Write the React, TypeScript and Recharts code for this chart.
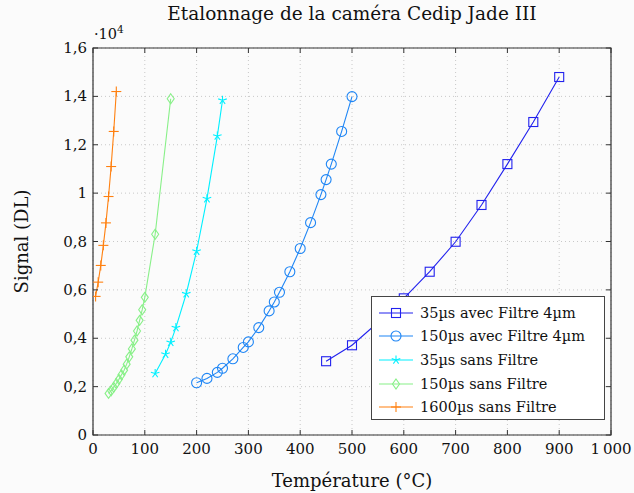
import React from 'react';
import { LineChart, Line, XAxis, YAxis, CartesianGrid, ReferenceArea } from 'recharts';

// temperatures (°C) and signals (DL)
const temp35Filtre = [450, 500, 550, 600, 650, 700, 750, 800, 850, 900];
const sig35Filtre = [3050, 3710, 4650, 5650, 6750, 7990, 9510, 11200, 12940, 14800];

const temp150Filtre = [200, 220, 240, 250, 270, 290, 300, 320, 340, 350, 360, 380, 400, 420, 440, 450, 460, 480, 500];
const sig150Filtre = [2160, 2340, 2590, 2760, 3150, 3620, 3850, 4440, 5130, 5500, 5900, 6750, 7710, 8780, 9940, 10560, 11200, 12550, 13990];

const temp35Sans = [120, 140, 150, 160, 180, 200, 220, 240, 250];
const sig35Sans = [2540, 3340, 3830, 4440, 5840, 7600, 9770, 12360, 13840];

const temp150Sans = [30, 35, 40, 45, 50, 55, 60, 65, 70, 75, 80, 85, 90, 95, 100, 120, 150];
const sig150Sans = [1720, 1830, 1970, 2130, 2300, 2490, 2680, 2930, 3230, 3560, 3920, 4300, 4740, 5180, 5690, 8300, 13900];

const temp1600Sans = [5, 10, 15, 20, 25, 30, 35, 40, 45];
const sig1600Sans = [5730, 6320, 7010, 7840, 8770, 9860, 11100, 12550, 14200];

const xTicks = [0, 100, 200, 300, 400, 500, 600, 700, 800, 900, 1000];
const yTicks = [0, 2000, 4000, 6000, 8000, 10000, 12000, 14000, 16000];

const W = 634;
const H = 493;
const PL = 93;
const PR = 611;
const PT = 48;
const PB = 435;
const FONT = '"DejaVu Serif", serif';

const toPts = (xs: number[], ys: number[]) => xs.map((x, i) => ({ x, y: ys[i] }));

type Shape = 'square' | 'circle' | 'star' | 'diamond' | 'plus';

const Marker = ({ shape, cx, cy, color }: { shape: Shape; cx: number; cy: number; color: string }) => {
    const sw = 1.1;
    if (shape === 'square')
        return <rect x={cx - 4.5} y={cy - 4.5} width={9} height={9} fill="none" stroke={color} strokeWidth={sw} />;
    if (shape === 'circle')
        return <circle cx={cx} cy={cy} r={5} fill="none" stroke={color} strokeWidth={sw} />;
    if (shape === 'diamond')
        return <polygon points={`${cx},${cy - 5} ${cx + 3.5},${cy} ${cx},${cy + 5} ${cx - 3.5},${cy}`} fill="none" stroke={color} strokeWidth={sw} />;
    if (shape === 'plus')
        return (
            <g stroke={color} strokeWidth={sw}>
                <line x1={cx - 5} y1={cy} x2={cx + 5} y2={cy} />
                <line x1={cx} y1={cy - 5} x2={cx} y2={cy + 5} />
            </g>
        );
    // star: 5 rays
    const rays = [0, 1, 2, 3, 4].map(k => {
        const a = -Math.PI / 2 + (k * 2 * Math.PI) / 5;
        return <line key={k} x1={cx} y1={cy} x2={cx + 4.5 * Math.cos(a)} y2={cy + 4.5 * Math.sin(a)} />;
    });
    return <g stroke={color} strokeWidth={sw}>{rays}</g>;
};

const series: { name: string; color: string; shape: Shape; data: { x: number; y: number }[] }[] = [
    { name: '35µs avec Filtre 4µm', color: '#2222ee', shape: 'square', data: toPts(temp35Filtre, sig35Filtre) },
    { name: '150µs avec Filtre 4µm', color: '#1f86f5', shape: 'circle', data: toPts(temp150Filtre, sig150Filtre) },
    { name: '35µs sans Filtre', color: '#00f0ff', shape: 'star', data: toPts(temp35Sans, sig35Sans) },
    { name: '150µs sans Filtre', color: '#88f088', shape: 'diamond', data: toPts(temp150Sans, sig150Sans) },
    { name: '1600µs sans Filtre', color: '#ff8010', shape: 'plus', data: toPts(temp1600Sans, sig1600Sans) },
];

const XTick = (props: any) => {
    const { x, payload } = props;
    const v = payload.value as number;
    return (
        <g>
            <line x1={x} y1={PB} x2={x} y2={PB - 5} stroke="#333" />
            <line x1={x} y1={PT} x2={x} y2={PT + 5} stroke="#333" />
            <text x={x} y={PB + 19} textAnchor="middle" fontSize={15} fontFamily={FONT} fill="#111">
                {v === 1000 ? '1\u2009000' : v}
            </text>
        </g>
    );
};

const YTick = (props: any) => {
    const { y, payload } = props;
    const v = payload.value as number;
    const label = v === 0 ? '0' : String(v / 10000).replace('.', ',');
    return (
        <g>
            <line x1={PL} y1={y} x2={PL + 5} y2={y} stroke="#333" />
            <line x1={PR} y1={y} x2={PR - 5} y2={y} stroke="#333" />
            <text x={PL - 6} y={y + 5} textAnchor="end" fontSize={15} fontFamily={FONT} fill="#111">
                {label}
            </text>
        </g>
    );
};

const LegendBox = () => (
    <div style={{ position: 'absolute', left: 371, top: 296, border: '1px solid #444', background: '#fff', width: 234, height: 124, fontFamily: FONT, fontSize: 14.5, color: '#111', boxSizing: 'border-box', paddingTop: 4 }}>
        {series.map(s => (
            <div key={s.name} style={{ display: 'flex', alignItems: 'center', height: 23.6 }}>
                <svg width={44} height={14} style={{ marginLeft: 4 }}>
                    <line x1={3} y1={7} x2={37} y2={7} stroke={s.color} strokeWidth={1.1} />
                    <Marker shape={s.shape} cx={20} cy={7} color={s.color} />
                </svg>
                <span style={{ whiteSpace: 'nowrap' }}>{s.name}</span>
            </div>
        ))}
    </div>
);

const App: React.FC = () => {
    return (
        <div style={{ position: 'absolute', left: 0, top: 0, width: W, height: H, background: '#fbfbfb' }}>
            <div style={{ position: 'absolute', top: 3, left: (PL + PR) / 2 - W / 2, width: W, textAlign: 'center', fontFamily: FONT, fontSize: 18.5, color: '#111' }}>
                Etalonnage de la caméra Cedip Jade III
            </div>
            <div style={{ position: 'absolute', left: 94, top: 23, fontFamily: FONT, fontSize: 14.5, color: '#111' }}>
                ·10<sup style={{ fontSize: 10.5 }}>4</sup>
            </div>
            <LineChart width={W} height={H} margin={{ top: PT, right: W - PR, bottom: 0, left: 0 }}>
                <CartesianGrid stroke="#c8c8c8" strokeDasharray="1 3" />
                <XAxis
                    type="number"
                    dataKey="x"
                    domain={[0, 1000]}
                    ticks={xTicks}
                    height={H - PB}
                    tickLine={false}
                    axisLine={false}
                    tick={<XTick />}
                    allowDataOverflow
                    label={{
                        content: () => (
                            <text x={(PL + PR) / 2} y={487} textAnchor="middle" fontSize={18} fontFamily={FONT} fill="#111">
                                Température (°C)
                            </text>
                        ),
                    }}
                />
                <YAxis
                    type="number"
                    dataKey="y"
                    domain={[0, 16000]}
                    ticks={yTicks}
                    width={PL}
                    tickLine={false}
                    axisLine={false}
                    tick={<YTick />}
                    allowDataOverflow
                    label={{
                        content: () => (
                            <text x={28} y={(PT + PB) / 2} transform={`rotate(-90 28 ${(PT + PB) / 2})`} textAnchor="middle" fontSize={18} fontFamily={FONT} fill="#111">
                                Signal (DL)
                            </text>
                        ),
                    }}
                />
                <ReferenceArea x1={0} x2={1000} y1={0} y2={16000} fill="none" stroke="#333" strokeWidth={1.2} />
                {series.map(s => (
                    <Line
                        key={s.name}
                        data={s.data}
                        dataKey="y"
                        name={s.name}
                        stroke={s.color}
                        strokeWidth={1.1}
                        isAnimationActive={false}
                        dot={(p: any) => <Marker key={`${s.name}-${p.index}`} shape={s.shape} cx={p.cx} cy={p.cy} color={s.color} />}
                        activeDot={false}
                    />
                ))}
            </LineChart>
            <LegendBox />
        </div>
    );
};

export default App;
